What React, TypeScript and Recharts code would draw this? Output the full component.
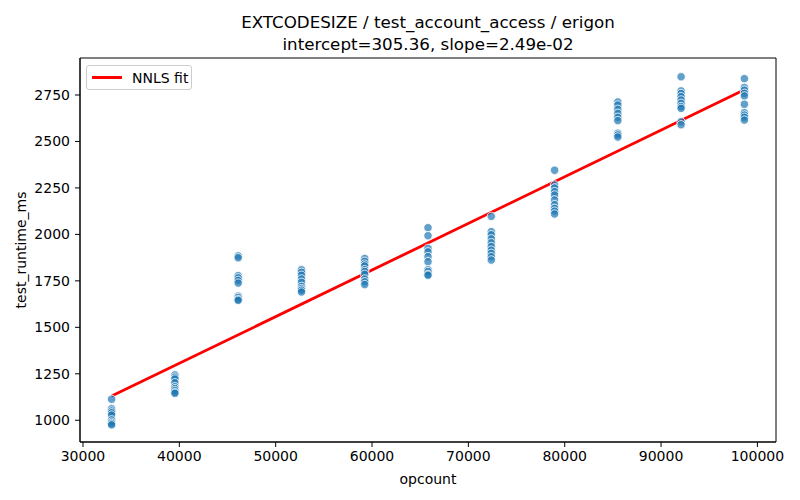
import {
  ComposedChart,
  Scatter,
  Line,
  XAxis,
  YAxis,
  Label,
  ReferenceArea,
} from "recharts";

// opcount per group of runs
const opcounts = [32970, 39540, 46110, 52680, 59240, 65810, 72380, 78950, 85510, 92080, 98650];

// measured runtimes (ms), one list per opcount group
const runtimes: number[][] = [
  [1113, 1062, 1050, 1040, 1028, 1002, 990, 982, 975],
  [1244, 1232, 1222, 1202, 1180, 1170, 1160, 1150, 1145],
  [1884, 1874, 1778, 1766, 1752, 1738, 1668, 1660, 1650, 1645],
  [1810, 1796, 1780, 1760, 1742, 1720, 1708, 1700, 1690],
  [1870, 1855, 1840, 1830, 1810, 1800, 1785, 1760, 1745, 1730],
  [2036, 1993, 1925, 1906, 1880, 1853, 1810, 1800, 1785, 1780],
  [2097, 2015, 1998, 1976, 1955, 1935, 1915, 1898, 1880, 1862],
  [2345, 2266, 2250, 2230, 2212, 2185, 2160, 2140, 2125, 2110],
  [2712, 2696, 2673, 2651, 2630, 2612, 2544, 2535, 2524],
  [2848, 2772, 2758, 2741, 2723, 2705, 2688, 2678, 2606, 2590],
  [2838, 2790, 2776, 2759, 2745, 2700, 2655, 2642, 2630, 2615],
];

// NNLS fit line end points
const fitX = [32970, 98650];
const fitY = [1130, 2778];

const xTicks = [30000, 40000, 50000, 60000, 70000, 80000, 90000, 100000];
const yTicks = [1000, 1250, 1500, 1750, 2000, 2250, 2500, 2750];

const X_DOMAIN: [number, number] = [29690, 101930];
const Y_DOMAIN: [number, number] = [883, 2949];

const points = opcounts.flatMap((x, i) => runtimes[i].map((y) => ({ x, y })));
const fit = fitX.map((x, i) => ({ x, y: fitY[i] }));

const font = "'DejaVu Sans', sans-serif";

const Dot = (props: any) => (
  <circle
    cx={props.cx}
    cy={props.cy}
    r={4.2}
    fill="#1f77b4"
    fillOpacity={0.7}
    stroke="#ffffff"
    strokeWidth={0.8}
  />
);

export default function App() {
  return (
    <div style={{ position: "absolute", left: 0, top: 0, width: 800, height: 500, background: "#fff" }}>
      <div
        style={{
          position: "absolute",
          left: 0,
          top: 11,
          width: 856,
          textAlign: "center",
          fontFamily: font,
          fontSize: 16.7,
          lineHeight: "22px",
          color: "#000",
        }}
      >
        EXTCODESIZE / test_account_access / erigon
        <br />
        intercept=305.36, slope=2.49e-02
      </div>
      <ComposedChart
        width={800}
        height={500}
        margin={{ top: 58, right: 24, left: 0, bottom: 0 }}
        style={{ fontFamily: font }}
      >
        <XAxis
          type="number"
          dataKey="x"
          domain={X_DOMAIN}
          ticks={xTicks}
          allowDataOverflow
          height={58}
          tickSize={5}
          tickMargin={4}
          tick={{ fill: "#000", fontSize: 14 }}
          axisLine={{ stroke: "#000" }}
          tickLine={{ stroke: "#000" }}
        >
          <Label value="opcount" position="insideBottom" offset={16} fill="#000" fontSize={14} />
        </XAxis>
        <YAxis
          type="number"
          dataKey="y"
          domain={Y_DOMAIN}
          ticks={yTicks}
          allowDataOverflow
          width={80}
          tickSize={5}
          tickMargin={5}
          tick={{ fill: "#000", fontSize: 14 }}
          axisLine={{ stroke: "#000" }}
          tickLine={{ stroke: "#000" }}
        >
          <Label
            value="test_runtime_ms"
            angle={-90}
            position="insideLeft"
            offset={21}
            fill="#000"
            fontSize={14}
            style={{ textAnchor: "middle" }}
          />
        </YAxis>
        <ReferenceArea
          x1={X_DOMAIN[0]}
          x2={X_DOMAIN[1]}
          y1={Y_DOMAIN[0]}
          y2={Y_DOMAIN[1]}
          fill="none"
          stroke="#000"
          strokeWidth={1}
        />
        <Scatter data={points} dataKey="y" shape={<Dot />} isAnimationActive={false} legendType="none" />
        <Line
          data={fit}
          dataKey="y"
          type="linear"
          stroke="red"
          strokeWidth={2.8}
          dot={false}
          activeDot={false}
          isAnimationActive={false}
        />
      </ComposedChart>
      <div
        style={{
          position: "absolute",
          left: 86,
          top: 65,
          width: 104,
          height: 23,
          border: "1px solid #cccccc",
          borderRadius: 3,
          background: "rgba(255,255,255,0.8)",
          display: "flex",
          alignItems: "center",
          fontFamily: font,
          fontSize: 14,
          color: "#000",
        }}
      >
        <div style={{ width: 30, height: 2.8, background: "red", marginLeft: 5, marginRight: 10 }} />
        <span>NNLS fit</span>
      </div>
    </div>
  );
}
